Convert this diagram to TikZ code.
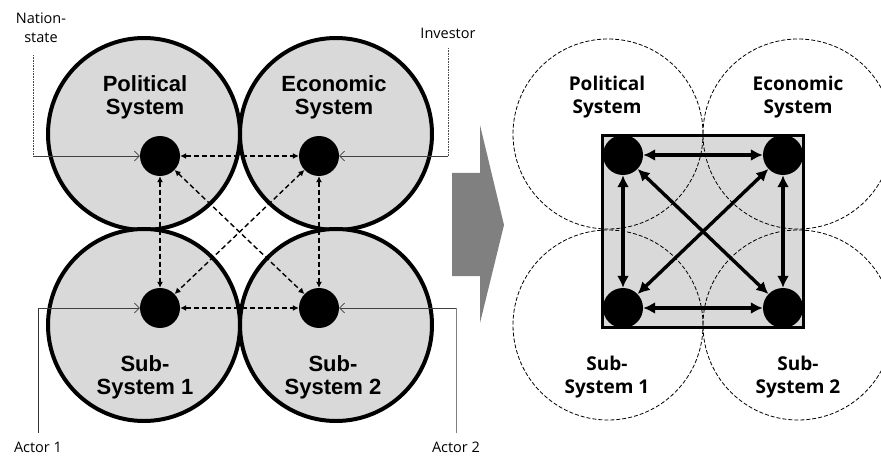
\documentclass[tikz,border=0pt]{standalone}
\usepackage{fontspec}
\usepackage{tikz}
\usetikzlibrary{arrows.meta,positioning}
\newfontfamily\arialfont{Liberation Sans}
\newfontfamily\gothfont{Open Sans}

\begin{document}
\begin{tikzpicture}[x=1pt,y=-1pt,
    sysdisc/.style={circle, draw=black, line width=4pt, fill=gray!30, minimum size=192pt, inner sep=0pt},
    sysring/.style={circle, draw=black, line width=0.8pt, dash pattern=on 4pt off 2pt, minimum size=190pt, inner sep=0pt},
    agent/.style={circle, fill=black, minimum size=40pt, inner sep=0pt},
    dashlink/.style={{Latex[length=6pt,width=6pt]}-{Latex[length=6pt,width=6pt]}, line width=1.4pt, dash pattern=on 5pt off 3pt},
    reallink/.style={{Latex[length=12pt,width=12pt]}-{Latex[length=12pt,width=12pt]}, line width=3.4pt},
    feed/.style={-{Straight Barb[length=5pt,width=10pt]}, line width=0.7pt, black!75},
    tag/.style={font=\gothfont\fontsize{14.5}{19}\selectfont, align=center},
    oldname/.style={font=\arialfont\bfseries\fontsize{22}{23}\selectfont, align=center},
    newname/.style={font=\gothfont\bfseries\fontsize{19}{23}\selectfont, align=center}]
  \useasboundingbox (0,0) rectangle (881,457);

  % four systems before
  \node[sysdisc] (polD) at (144,134) {};
  \node[sysdisc] (ecoD) at (336,134) {};
  \node[sysdisc] (subAD) at (144,325) {};
  \node[sysdisc] (subBD) at (336,325) {};
  \node[oldname] at (145,97) {Political\\System};
  \node[oldname] at (334,97) {Economic\\System};
  \node[oldname] at (145,377) {Sub-\\System 1};
  \node[oldname] at (333,377) {Sub-\\System 2};

  \node[agent] (pol) at (160,156) {};
  \node[agent] (eco) at (319,156) {};
  \node[agent] (subA) at (160,308) {};
  \node[agent] (subB) at (319,308) {};

  \draw[dashlink] (pol) -- (eco);
  \draw[dashlink] (subA) -- (subB);
  \draw[dashlink] (pol) -- (subA);
  \draw[dashlink] (eco) -- (subB);
  \draw[dashlink] (pol) -- (subB);
  \draw[dashlink] (eco) -- (subA);

  % outside actors
  \node[tag] (nation) at (41,28) {Nation-\\state};
  \node[tag] (inv) at (448,33) {Investor};
  \node[tag] (act1) at (38,447) {Actor 1};
  \node[tag] (act2) at (456,447) {Actor 2};
  \coordinate (nsTop) at (33,55);
  \coordinate (nsBend) at (33,156);
  \coordinate (invTop) at (448,48);
  \coordinate (invBend) at (448,156);
  \coordinate (aoneEnd) at (38,433);
  \coordinate (aoneBend) at (38,308);
  \coordinate (atwoEnd) at (456,433);
  \coordinate (atwoBend) at (456,308);
  \draw[black!70, line width=0.6pt, densely dotted] (nsTop) -- (nsBend);
  \draw[feed] (nsBend) -- (pol);
  \draw[black!70, line width=0.6pt, densely dotted] (invTop) -- (invBend);
  \draw[feed] (invBend) -- (eco);
  \draw[line width=0.7pt, black!80] (aoneEnd) -- (aoneBend);
  \draw[feed] (aoneBend) -- (subA);
  \draw[line width=0.7pt, black!50] (atwoEnd) -- (atwoBend);
  \draw[feed] (atwoBend) -- (subB);

  % block arrow
  \fill[gray] (452,173) -- (480,173) -- (480,125) -- (504,225) -- (480,323) -- (480,276) -- (452,276) -- cycle;

  % four systems after
  \fill[gray!30] (602,136) rectangle (803,327);
  \node[sysring] (polR) at (608,134) {};
  \node[sysring] (ecoR) at (798,134) {};
  \node[sysring] (subAR) at (608,325) {};
  \node[sysring] (subBR) at (798,325) {};
  \draw[line width=3pt] (602,136) rectangle (803,327);
  \node[newname] at (607,97) {Political\\System};
  \node[newname] at (798,97) {Economic\\System};
  \node[newname] at (607,377) {Sub-\\System 1};
  \node[newname] at (798,377) {Sub-\\System 2};

  \node[agent] (polN) at (623,155) {};
  \node[agent] (ecoN) at (783,155) {};
  \node[agent] (subAN) at (623,308) {};
  \node[agent] (subBN) at (783,308) {};

  \draw[reallink] (polN) -- (ecoN);
  \draw[reallink] (subAN) -- (subBN);
  \draw[reallink] (polN) -- (subAN);
  \draw[reallink] (ecoN) -- (subBN);
  \draw[reallink] (polN) -- (subBN);
  \draw[reallink] (ecoN) -- (subAN);
\end{tikzpicture}
\end{document}
